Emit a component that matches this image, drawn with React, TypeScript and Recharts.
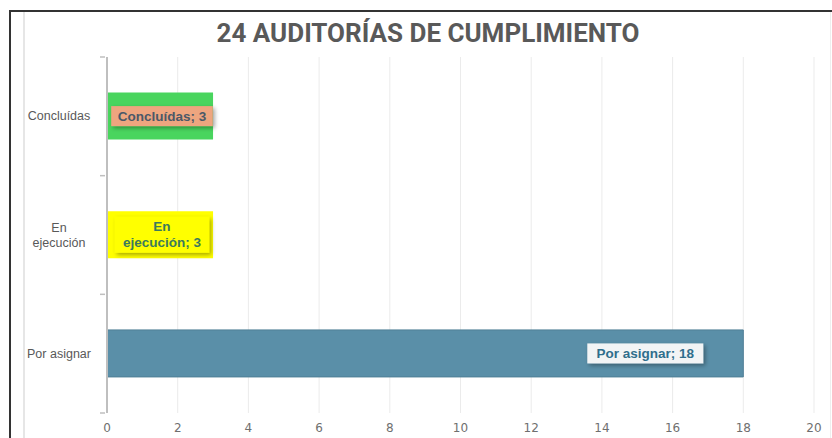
import React from "react";
import { BarChart, Bar, XAxis, YAxis, CartesianGrid, Cell, LabelList } from "recharts";

const categories = ["Concluídas", "En ejecución", "Por asignar"];
const values = [3, 3, 18];
const xTicks = [0, 2, 4, 6, 8, 10, 12, 14, 16, 18, 20];
const title = "24 AUDITORÍAS DE CUMPLIMIENTO";

const barColors = ["#49d55e", "#ffff00", "#5a8fa8"];
const labelFills = ["#eea57f", "#ffff00", "#f2f4f5"];
const labelTextColors = ["#4a5868", "#3b7a5c", "#2f6e8c"];
const labelLines = [["Concluídas; 3"], ["En", "ejecución; 3"], ["Por asignar; 18"]];
const tickLines = [["Concluídas"], ["En", "ejecución"], ["Por asignar"]];

const data = categories.map((c, i) => ({ name: c, value: values[i] }));

const W = 832;
const H = 438;
const TOP = 57;
const BOTTOM_AXIS = 25;
const PLOT_H = H - TOP - BOTTOM_AXIS;
const BAND_HALF = PLOT_H / categories.length / 2;

const YTick = (props: any) => {
  const { x, y, index } = props;
  const lines = tickLines[index] || [props.payload.value];
  const lh = 15;
  const startY = y - ((lines.length - 1) * lh) / 2;
  const axisX = x + 6;
  return (
    <g>
      {lines.map((l: string, k: number) => (
        <text
          key={k}
          x={x - 40}
          y={startY + k * lh}
          textAnchor="middle"
          dominantBaseline="central"
          fontSize={12.5}
          fontFamily="Liberation Sans, Arial, sans-serif"
          fill="#595959"
        >
          {l}
        </text>
      ))}
      <line x1={axisX - 5} x2={axisX} y1={y - BAND_HALF} y2={y - BAND_HALF} stroke="#bfbfbf" strokeWidth={1.5} />
      {index === categories.length - 1 && (
        <line x1={axisX - 5} x2={axisX} y1={y + BAND_HALF} y2={y + BAND_HALF} stroke="#bfbfbf" strokeWidth={1.5} />
      )}
    </g>
  );
};

const DataLabel = (props: any) => {
  const { x, y, width, height, index } = props;
  const lines = labelLines[index];
  const fs = 13.5;
  const lh = 16;
  const charW = 7.2;
  const maxLen = Math.max(...lines.map((l: string) => l.length));
  const boxW = maxLen * charW + 8;
  const boxH = lines.length * lh + 4;
  const cx = index === 2 ? x + width - 98 : x + 55;
  const cy = y + height / 2;
  const startY = cy - ((lines.length - 1) * lh) / 2;
  return (
    <g>
      <rect
        x={cx - boxW / 2}
        y={cy - boxH / 2}
        width={boxW}
        height={boxH}
        fill={labelFills[index]}
        filter="url(#lblShadow)"
      />
      {lines.map((l: string, k: number) => (
        <text
          key={k}
          x={cx}
          y={startY + k * lh}
          textAnchor="middle"
          dominantBaseline="central"
          fontSize={fs}
          fontWeight="bold"
          fontFamily="Liberation Sans, Arial, sans-serif"
          fill={labelTextColors[index]}
        >
          {l}
        </text>
      ))}
    </g>
  );
};

export default function App() {
  return (
    <div style={{ position: "absolute", left: 0, top: 0, width: W, height: H, background: "#ffffff", overflow: "hidden" }}>
      <div style={{ position: "absolute", left: 9, top: 10, width: 2, height: H - 10, background: "#333333" }} />
      <div style={{ position: "absolute", left: 9, top: 10, width: W - 9, height: 2, background: "#333333" }} />
      <div style={{ position: "absolute", left: 23, top: 12, width: 2, height: H - 12, background: "#e6e6e6" }} />
      <div style={{ position: "absolute", left: W - 2, top: 12, width: 1, height: H - 12, background: "#eeeeee" }} />
      <div
        style={{
          position: "absolute",
          left: 0,
          top: 17,
          width: 856,
          textAlign: "center",
          fontFamily: "Roboto, 'Liberation Sans', Arial, sans-serif",
          fontWeight: "bold",
          fontSize: 26,
          color: "#595959",
          lineHeight: "32px",
        }}
      >
        {title}
      </div>
      <div style={{ position: "absolute", left: 0, top: 0 }}>
        <BarChart
          width={W}
          height={H}
          data={data}
          layout="vertical"
          margin={{ top: TOP, right: 18, bottom: 0, left: 27 }}
          barCategoryGap="30%"
        >
          <defs>
            <filter id="lblShadow" x="-20%" y="-40%" width="150%" height="200%">
              <feDropShadow dx="2" dy="2" stdDeviation="2" floodColor="#000000" floodOpacity="0.35" />
            </filter>
          </defs>
          <CartesianGrid horizontal={false} stroke="#ebebeb" strokeWidth={1} />
          <XAxis
            type="number"
            domain={[0, 20]}
            ticks={xTicks}
            axisLine={false}
            tickLine={false}
            height={BOTTOM_AXIS}
            tick={{ fontSize: 12, fill: "#6f6f6f", fontFamily: "DejaVu Sans, sans-serif" }}
            dy={2}
            interval={0}
          />
          <YAxis
            type="category"
            dataKey="name"
            width={80}
            axisLine={{ stroke: "#bfbfbf", strokeWidth: 2 }}
            tickLine={false}
            tick={<YTick />}
            interval={0}
          />
          <Bar dataKey="value" isAnimationActive={false}>
            {data.map((d, i) => (
              <Cell key={d.name} fill={barColors[i]} stroke={i === 2 ? "#4f7f96" : "none"} strokeWidth={1} />
            ))}
            <LabelList dataKey="value" content={<DataLabel />} />
          </Bar>
        </BarChart>
      </div>
    </div>
  );
}
